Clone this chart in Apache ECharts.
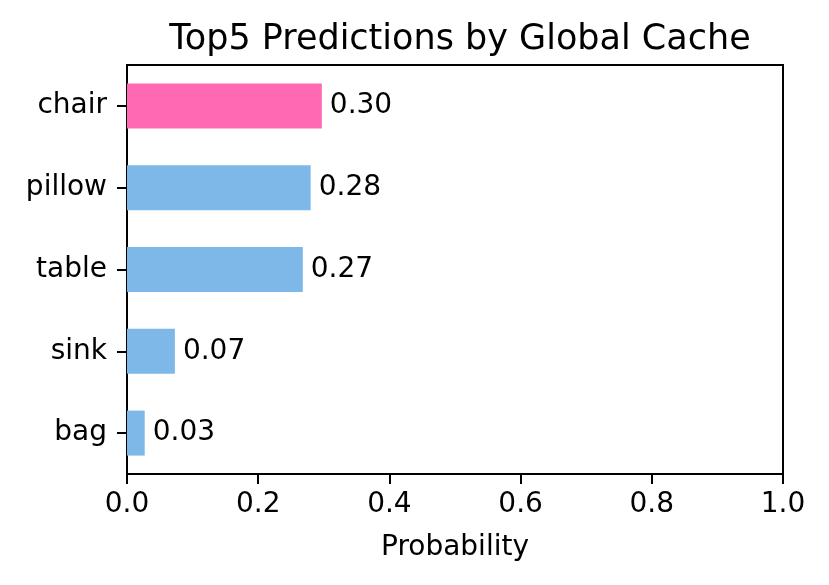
<!DOCTYPE html>
<html><head><meta charset="utf-8">
<script src="https://cdn.jsdelivr.net/npm/echarts@6/dist/echarts.min.js"></script>
<style>html,body{margin:0;padding:0;background:#fff}#c{width:829px;height:585px}</style>
</head><body><div id="c"></div>
<script>
const categories = ['chair', 'pillow', 'table', 'sink', 'bag'];
const values = [0.297, 0.280, 0.268, 0.073, 0.027];
const barColors = ['#FF69B4', '#7EB8E8', '#7EB8E8', '#7EB8E8', '#7EB8E8'];
const xTicks = [0, 0.2, 0.4, 0.6, 0.8, 1.0];

const font = 'DejaVu Sans';
const chart = echarts.init(document.getElementById('c'));
chart.setOption({
  animation: false,
  title: {
    text: 'Top5 Predictions by Global Cache',
    left: 455, top: 17, textAlign: 'center',
    textStyle: {fontFamily: font, fontSize: 35, fontWeight: 'normal', color: '#000'}
  },
  grid: {left: 127, right: 46, top: 65, bottom: 111, show: true, borderColor: '#000', borderWidth: 2},
  xAxis: {
    type: 'value', min: 0, max: 1, interval: 0.2,
    name: 'Probability', nameLocation: 'middle', nameGap: 60,
    nameTextStyle: {fontFamily: font, fontSize: 28, color: '#000'},
    axisLine: {show: true, lineStyle: {color: '#000', width: 2}},
    axisTick: {show: true, length: 10, lineStyle: {color: '#000', width: 2}},
    axisLabel: {fontFamily: font, fontSize: 28, color: '#000', margin: 17,
      formatter: v => v.toFixed(1)},
    splitLine: {show: false}
  },
  yAxis: {
    type: 'category', data: categories, inverse: true,
    axisLine: {show: true, lineStyle: {color: '#000', width: 2}},
    axisTick: {show: true, alignWithLabel: true, length: 10, lineStyle: {color: '#000', width: 2}},
    axisLabel: {fontFamily: font, fontSize: 28, color: '#000', margin: 20}
  },
  series: [{
    type: 'bar', barWidth: '55%',
    data: values.map((v, i) => ({value: v, itemStyle: {color: barColors[i]}})),
    label: {show: true, position: 'right', distance: 8, fontFamily: font, fontSize: 28, color: '#000',
      formatter: p => p.value.toFixed(2)}
  }]
});
</script></body></html>
